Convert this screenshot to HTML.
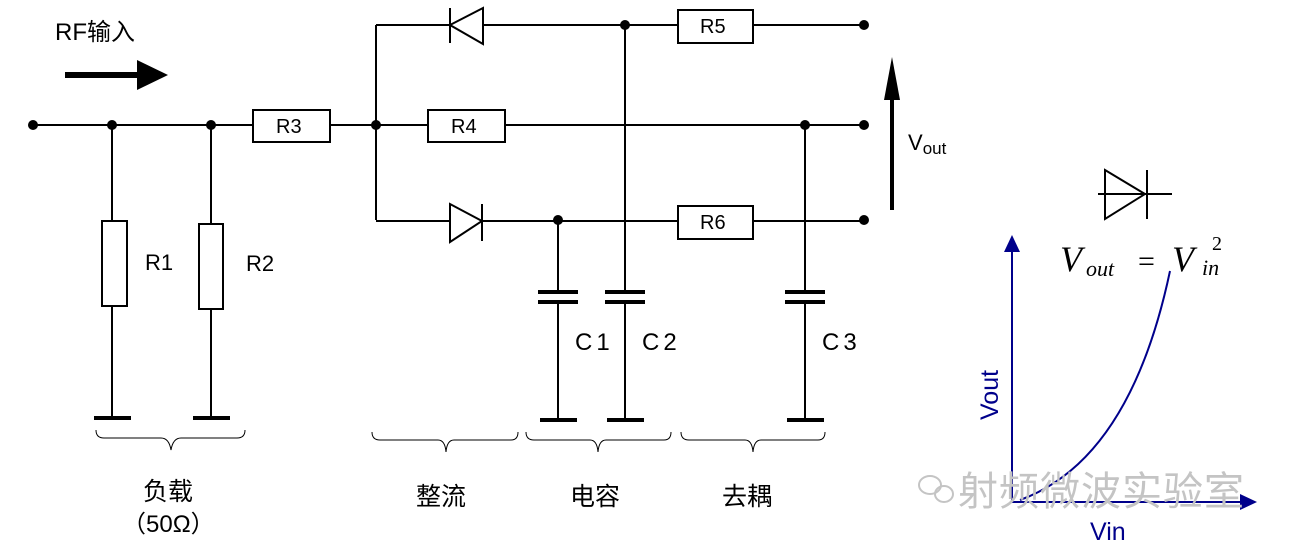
<!DOCTYPE html>
<html><head><meta charset="utf-8"><style>
html,body{margin:0;padding:0;background:#fff;width:1300px;height:551px;overflow:hidden}
svg{display:block}
text{font-family:"Liberation Sans","Noto Sans CJK SC",sans-serif;fill:#000}
text.m{font-family:"Liberation Serif",serif;font-style:italic}
</style></head><body>
<svg width="1300" height="551" viewBox="0 0 1300 551">
<g stroke="#000" stroke-width="2" fill="none">
<line x1="33" y1="125" x2="253" y2="125"/>
<line x1="330" y1="125" x2="428" y2="125"/>
<line x1="505" y1="125" x2="864" y2="125"/>
<rect x="253" y="110" width="77" height="32" fill="#fff"/>
<rect x="428" y="110" width="77" height="32" fill="#fff"/>
<line x1="376" y1="25" x2="376" y2="220"/>
<line x1="376" y1="25" x2="678" y2="25"/>
<line x1="753" y1="25" x2="864" y2="25"/>
<rect x="678" y="10" width="75" height="33" fill="#fff"/>
<polygon points="450,25 483,8 483,44" fill="#fff"/>
<line x1="450" y1="8" x2="450" y2="43"/>
<line x1="376" y1="221" x2="678" y2="221"/>
<line x1="753" y1="221" x2="864" y2="221"/>
<rect x="678" y="206" width="75" height="33" fill="#fff"/>
<polygon points="482,221 450,204 450,242" fill="#fff"/>
<line x1="482" y1="204" x2="482" y2="241"/>
<line x1="112" y1="125" x2="112" y2="418"/>
<rect x="102" y="221" width="25" height="85" fill="#fff"/>
<line x1="211" y1="125" x2="211" y2="418"/>
<rect x="199" y="224" width="24" height="85" fill="#fff"/>
<line x1="558" y1="221" x2="558" y2="291"/><line x1="558" y1="303" x2="558" y2="420"/>
<line x1="625" y1="25" x2="625" y2="291"/><line x1="625" y1="303" x2="625" y2="420"/>
<line x1="805" y1="125" x2="805" y2="291"/><line x1="805" y1="303" x2="805" y2="420"/>
</g>
<g stroke="#000" stroke-width="4">
<line x1="538" y1="292" x2="578" y2="292"/><line x1="538" y1="302" x2="578" y2="302"/>
<line x1="605" y1="292" x2="645" y2="292"/><line x1="605" y1="302" x2="645" y2="302"/>
<line x1="785" y1="292" x2="825" y2="292"/><line x1="785" y1="302" x2="825" y2="302"/>
<line x1="94" y1="418" x2="131" y2="418"/><line x1="193" y1="418" x2="230" y2="418"/>
<line x1="540" y1="420" x2="577" y2="420"/><line x1="607" y1="420" x2="644" y2="420"/><line x1="787" y1="420" x2="824" y2="420"/>
<line x1="892" y1="210" x2="892" y2="95"/>
<line x1="65" y1="75" x2="140" y2="75" stroke-width="6"/>
</g>
<polygon points="137,60 168,75 137,90" fill="#000"/>
<polygon points="884,100 892,57 900,100" fill="#000"/>
<g fill="#000">
<circle cx="33" cy="125" r="5"/><circle cx="112" cy="125" r="5"/><circle cx="211" cy="125" r="5"/>
<circle cx="376" cy="125" r="5"/><circle cx="805" cy="125" r="5"/><circle cx="864" cy="125" r="5"/>
<circle cx="625" cy="25" r="5"/><circle cx="864" cy="25" r="5"/>
<circle cx="558" cy="220" r="5"/><circle cx="864" cy="220" r="5"/>
</g>
<g font-size="20">
<text x="55" y="40" font-size="24">RF输入</text>
<text x="276" y="133">R3</text><text x="451" y="133">R4</text>
<text x="700" y="33">R5</text><text x="700" y="229">R6</text>
<text x="145" y="270" font-size="22">R1</text><text x="246" y="271" font-size="22">R2</text>
<text x="575" y="350" font-size="24" letter-spacing="4">C1</text>
<text x="642" y="350" font-size="24" letter-spacing="4">C2</text>
<text x="822" y="350" font-size="24" letter-spacing="4">C3</text>
<text x="908" y="150" font-size="22">V<tspan font-size="17" dy="4">out</tspan></text>
<text x="143" y="500" font-size="25">负载</text>
<text x="122" y="532" font-size="24">（50Ω）</text>
<text x="416" y="505" font-size="25">整流</text>
<text x="570" y="505" font-size="25">电容</text>
<text x="722" y="505" font-size="25">去耦</text>
</g>
<g stroke="#000" stroke-width="1" fill="none">
<path d="M96,430 q0,8 8,8 h57 q8,0 10,12 q2,-12 10,-12 h56 q8,0 8,-8"/>
<path d="M372,432 q0,8 8,8 h58 q7,0 8,12 q1,-12 8,-12 h57 q7,0 7,-8"/>
<path d="M526,432 q0,8 8,8 h56 q7,0 8,12 q1,-12 8,-12 h58 q7,0 7,-8"/>
<path d="M681,432 q0,8 8,8 h56 q7,0 8,12 q1,-12 8,-12 h57 q7,0 7,-8"/>
</g>
<g stroke="#000" stroke-width="2" fill="none">
<line x1="1098" y1="194" x2="1172" y2="194"/>
<polygon points="1105,170 1145,194 1105,219"/>
<line x1="1147" y1="170" x2="1147" y2="219"/>
</g>
<g stroke="#00008b" stroke-width="2" fill="none">
<line x1="1012" y1="502" x2="1012" y2="250"/>
<line x1="1012" y1="502" x2="1243" y2="502"/>
<path d="M1020,500 Q1130,460 1170,271"/>
</g>
<polygon points="1004,252 1012,235 1020,252" fill="#00008b"/>
<polygon points="1240,494 1257,502 1240,510" fill="#00008b"/>
<g stroke="#c4c4c4" stroke-width="2" fill="none">
<ellipse cx="930" cy="485" rx="11" ry="9"/>
<ellipse cx="944" cy="494" rx="9" ry="8"/>
</g>
<text x="958" y="505" font-size="40" style="fill:#c4c4c4" letter-spacing="1">射频微波实验室</text>
<text class="m" x="1060" y="271" font-size="36">V</text>
<text class="m" x="1086" y="276" font-size="22">out</text>
<text x="1138" y="271" font-size="30" style="font-family:'Liberation Serif',serif">=</text>
<text class="m" x="1172" y="271" font-size="36">V</text>
<text class="m" x="1202" y="275" font-size="22">in</text>
<text x="1212" y="250" font-size="20" style="font-family:'Liberation Serif',serif">2</text>
<text x="1090" y="540" font-size="25" style="fill:#00008b">Vin</text>
<text transform="translate(998,420) rotate(-90)" font-size="25" style="fill:#00008b">Vout</text>
</svg>
</body></html>
